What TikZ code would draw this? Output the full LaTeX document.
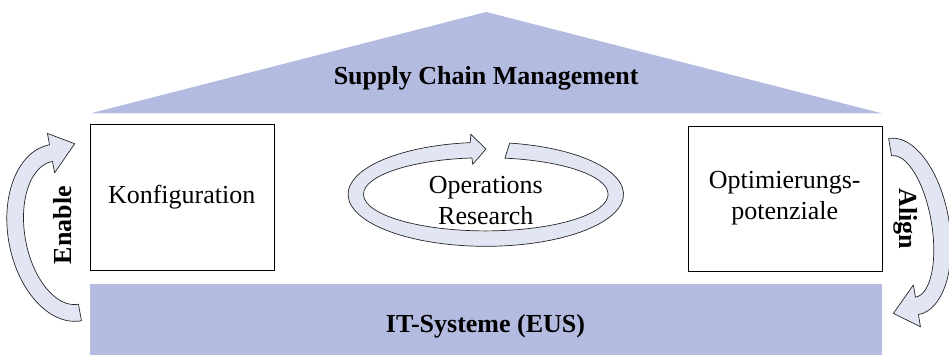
\documentclass[tikz,border=0pt]{standalone}
\usepackage{fontspec}
\setmainfont{Liberation Serif}
\usetikzlibrary{positioning}
\definecolor{roofblue}{RGB}{180,187,224}
\definecolor{arrowfill}{RGB}{226,230,244}

\begin{document}
\begin{tikzpicture}[
    x=1pt, y=1pt,
    box/.style={
        rectangle,
        draw=black,
        thin,
        minimum width=184pt,
        minimum height=146pt,
        align=center,
        font=\fontsize{26}{31}\selectfont
    },
    bar/.style={
        rectangle,
        fill=roofblue,
        minimum width=792pt,
        minimum height=84pt,
        font=\fontsize{26}{31}\selectfont\bfseries
    },
    bigarrow/.style={
        fill=arrowfill,
        draw=black!85,
        line width=0.7pt,
        line join=round
    },
    sidetext/.style={
        font=\fontsize{26}{31}\selectfont\bfseries
    }
]
\useasboundingbox (0,0) rectangle (949,354);

% Dach
\coordinate (roofL) at (90.7,240.7);
\coordinate (roofR) at (881.7,240.7);
\coordinate (roofT) at (486.2,342);
\fill[roofblue] (roofL) -- (roofT) -- (roofR) -- cycle;
\node[sidetext] (scm) at (486.2,276) {Supply Chain Management};

% Fundament
\node[bar] (it) at (485.5,28) {IT-Systeme (EUS)};

% Saeulen
\node[box] (konf) at (181.7,156.5) {Konfiguration};
\node[box, minimum width=194pt, minimum height=145pt] (opt) at (784.7,155.6) {Optimierungs-\\potenziale};

% Kreislauf in der Mitte
\begin{scope}[shift={(485.8,159.7)}]
\draw[bigarrow] (80:137.7pt and 52pt) arc[start angle=80, end angle=-263.5, x radius=137.7pt, y radius=52pt]
    -- (-15,60) -- (0.2,45.3) -- (-13.1,30)
    -- (-263.5:122.3pt and 36.6pt) arc[start angle=-263.5, end angle=81, x radius=122.3pt, y radius=36.6pt] -- cycle;
\end{scope}
\node[align=center, font=\fontsize{26}{31}\selectfont] (or) at (485.8,153) {Operations\\Research};

% Enable links
\begin{scope}[shift={(65.5,121.2)}, rotate=10.3]
\draw[bigarrow] (0,-89.4) arc[start angle=270, end angle=90, x radius=57.4pt, y radius=89.4pt]
    -- (0,101) -- (25,86) -- (0,61)
    -- (0,72.6) arc[start angle=90, end angle=270, x radius=40.6pt, y radius=72.6pt] -- cycle;
\end{scope}
\node[sidetext, rotate=90] (enable) at (62.5,129) {Enable};

% Align rechts
\begin{scope}[shift={(903.5,127.5)}, rotate=9.6]
\draw[bigarrow] (0,89.3) arc[start angle=90, end angle=-90, x radius=45.8pt, y radius=89.3pt]
    -- (0,-101.7) -- (-24.5,-84) -- (0,-59.3)
    -- (0,-71.7) arc[start angle=-90, end angle=90, x radius=28.2pt, y radius=71.7pt] -- cycle;
\end{scope}
\node[sidetext, rotate=-90] (align) at (906,135) {Align};

\end{tikzpicture}
\end{document}
